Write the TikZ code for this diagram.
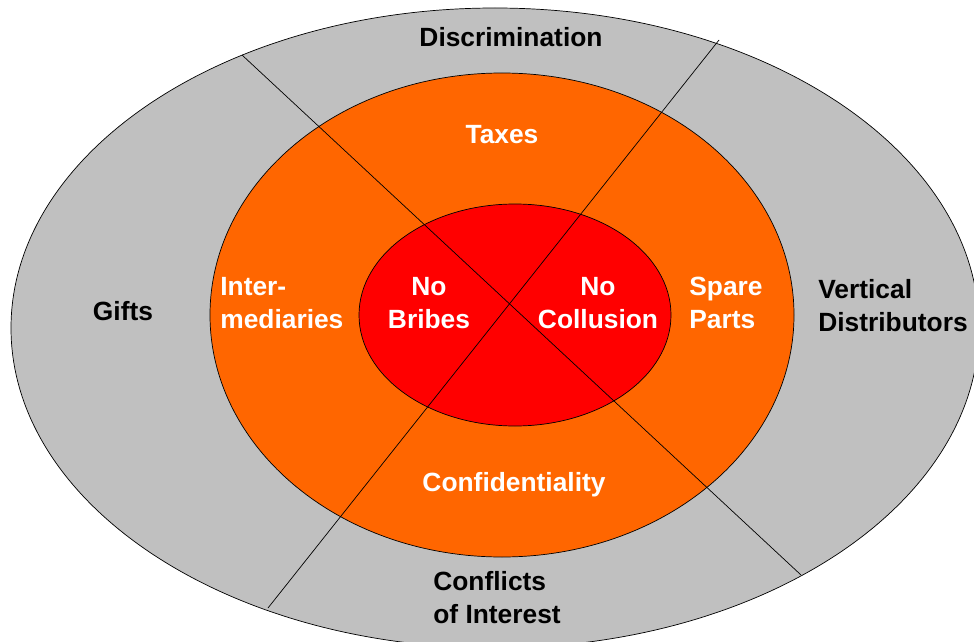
\documentclass[tikz,border=0pt]{standalone}
\usepackage{fontspec}
\setmainfont{Liberation Sans}
\definecolor{ringgray}{HTML}{C0C0C0}
\definecolor{ringorange}{HTML}{FF6600}
\definecolor{corered}{HTML}{FF0000}
\begin{document}
\begin{tikzpicture}[x=0.02cm,y=-0.02cm,
    every node/.style={inner sep=0pt,font=\bfseries\fontsize{15}{18.8}\selectfont},
    dark/.style={text=black},
    light/.style={text=white}]
      \useasboundingbox (0,0) rectangle (974,642);
      \clip (0,0) rectangle (974,642);
      \draw[fill=ringgray] (495,328) ellipse [x radius=484, y radius=320];
      \draw[fill=ringorange] (502,315) ellipse [x radius=292, y radius=242];
      \draw[fill=corered] (515,315) ellipse [x radius=156, y radius=111];
      \draw
        (242,55) coordinate (nw)
        (801,575) coordinate (se)
        (719,40) coordinate (ne)
        (268,608) coordinate (sw);
      \begin{scope}[-]
        \draw (nw) to (se);
        \draw (ne) to (sw);
      \end{scope}
      \draw
        (511,37) node[dark] (discr){Discrimination}
        (123,311) node[dark] (gifts){Gifts}
        (818,306) node[dark,anchor=west,align=left] (vert){Vertical\\Distributors}
        (433,598) node[dark,anchor=west,align=left] (confl){Conflicts\\of Interest}
        (502,135) node[light] (taxes){Taxes}
        (220,303) node[light,anchor=west,align=left] (inter){Inter-\\mediaries}
        (689,303) node[light,anchor=west,align=left] (spare){Spare\\Parts}
        (514,485) node[light] (confid){Confidentiality}
        (429,303) node[light,align=center] (bribes){No\\Bribes}
        (598,303) node[light,align=center] (collu){No\\Collusion};
    \end{tikzpicture}
\end{document}
